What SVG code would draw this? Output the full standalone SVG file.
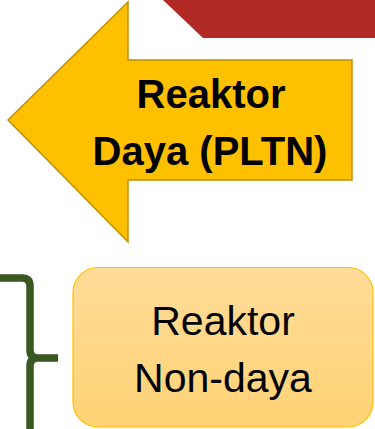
<svg xmlns="http://www.w3.org/2000/svg" width="375" height="429" viewBox="0 0 375 429">
  <defs>
    <linearGradient id="boxFill" x1="0" y1="0" x2="0" y2="1">
      <stop offset="0" stop-color="#FFDC99"/>
      <stop offset="1" stop-color="#FFD275"/>
    </linearGradient>
    <style>
      .label { font-family: "Liberation Sans", Arial, sans-serif; fill: #000; text-anchor: middle; }
      .bold { font-weight: bold; font-size: 40px; }
      .plain { font-size: 41px; }
    </style>
  </defs>
  <rect width="375" height="429" fill="#FFFFFF"/>

  <!-- red banner corner at the top -->
  <polygon points="163,0 375,0 375,38 203,38" fill="#B22A25"/>

  <!-- left-pointing arrow: power reactor -->
  <g id="reaktor-daya">
    <polygon points="8,120 128,2 128,60 352,60 352,180 128,180 128,242"
             fill="#FFC000" stroke="#BF9000" stroke-width="1.5" stroke-linejoin="miter"/>
    <text class="label bold" x="211" y="108">Reaktor</text>
    <text class="label bold" x="210" y="165">Daya (PLTN)</text>
  </g>

  <!-- curly brace -->
  <g id="connectors">
    <path d="M0,278 H22 Q30,278 30,286 V350 Q30,358 38,358 H58 M38,358 Q30,358 30,366 V435"
          fill="none" stroke="#3B5722" stroke-width="7.5"/>
  </g>

  <!-- rounded box: non-power reactor -->
  <g id="reaktor-non-daya">
    <rect x="73" y="267.5" width="300" height="159.5" rx="25" ry="25"
          fill="url(#boxFill)" stroke="#FFC000" stroke-width="1.2"/>
    <text class="label plain" x="223" y="335">Reaktor</text>
    <text class="label plain" x="223" y="392">Non-daya</text>
  </g>
</svg>
